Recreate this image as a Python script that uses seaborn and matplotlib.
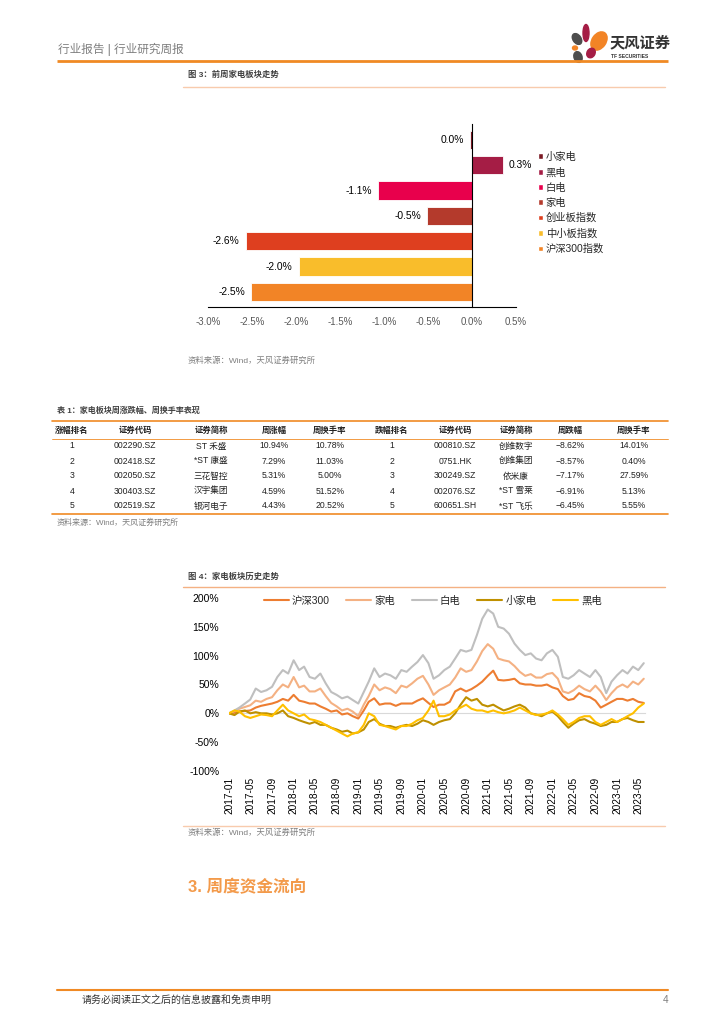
import numpy as np
import pandas as pd
import matplotlib
matplotlib.use('Agg')
import matplotlib.pyplot as plt
import seaborn as sns
from matplotlib.patches import Ellipse, Patch

sns.set_theme(style='white')
plt.rcParams['font.family'] = ['Liberation Sans', 'Noto Sans CJK SC', 'DejaVu Sans']
plt.rcParams['axes.unicode_minus'] = False

# ---------------- data ----------------
bar_categories = ['小家电', '黑电', '白电', '家电', '创业板指数', '中小板指数', '沪深300指数']
bar_values = [-0.02, 0.35, -1.07, -0.51, -2.57, -1.97, -2.51]
bar_colors = ['#7B1A24', '#A51D45', '#E8004C', '#B43A2C', '#DE3F1F', '#F9BD2B', '#F28426']
bar_ticks = [-3.0, -2.5, -2.0, -1.5, -1.0, -0.5, 0.0, 0.5]

table_header = ['涨幅排名', '证券代码', '证券简称', '周涨幅', '周换手率',
                '跌幅排名', '证券代码', '证券简称', '周跌幅', '周换手率']
rank_up = [1, 2, 3, 4, 5]
code_up = ['002290.SZ', '002418.SZ', '002050.SZ', '300403.SZ', '002519.SZ']
name_up = ['ST 禾盛', '*ST 康盛', '三花智控', '汉宇集团', '银河电子']
chg_up = [10.94, 7.29, 5.31, 4.59, 4.43]
turn_up = [10.78, 11.03, 5.00, 51.52, 20.52]
rank_dn = [1, 2, 3, 4, 5]
code_dn = ['000810.SZ', '0751.HK', '300249.SZ', '002076.SZ', '600651.SH']
name_dn = ['创维数字', '创维集团', '依米康', '*ST 雪莱', '*ST 飞乐']
chg_dn = [-8.62, -8.57, -7.17, -6.91, -6.45]
turn_dn = [14.01, 0.40, 27.59, 5.13, 5.55]

line_names = ['沪深300', '家电', '白电', '小家电', '黑电']
line_colors = ['#ED7D31', '#F4B183', '#BFBFBF', '#BF9000', '#FFC000']
months = pd.date_range('2017-01-01', '2023-06-01', freq='MS')
hs300 = [0, 1, 3, 4, 5, 10, 13, 15, 17, 20, 25, 22,
         32, 22, 20, 17, 17, 12, 8, 3, 5, -2, 0, -5,
         -9, 5, 20, 26, 15, 17, 17, 13, 17, 17, 17, 22,
         26, 18, 11, 15, 15, 20, 38, 43, 38, 42, 48, 55,
         65, 74, 58, 57, 58, 60, 52, 50, 50, 48, 48, 50,
         45, 42, 30, 23, 25, 35, 30, 28, 22, 10, 15, 20,
         25, 25, 22, 25, 20, 18]
jiadian = [0, 4, 8, 11, 14, 22, 20, 25, 28, 40, 50, 45,
           63, 45, 48, 38, 38, 43, 30, 18, 12, 5, 8, 3,
           -5, 15, 30, 50, 40, 45, 42, 35, 48, 45, 52, 60,
           65, 50, 32, 40, 45, 50, 62, 78, 72, 75, 90, 108,
           120, 112, 95, 92, 90, 82, 72, 65, 68, 62, 62, 68,
           70, 60, 38, 35, 40, 48, 42, 38, 48, 38, 23, 35,
           45, 50, 45, 55, 50, 60]
baidian = [0, 5, 10, 17, 24, 43, 37, 40, 46, 63, 75, 69,
           92, 75, 81, 63, 60, 69, 52, 37, 32, 26, 29, 23,
           17, 37, 55, 78, 63, 69, 66, 60, 75, 72, 81, 89,
           101, 87, 60, 66, 75, 81, 95, 110, 107, 110, 136, 164,
           180, 173, 150, 147, 138, 121, 110, 101, 104, 95, 92, 104,
           110, 98, 63, 60, 66, 75, 69, 63, 75, 63, 35, 55,
           66, 75, 69, 81, 75, 87]
xiaojiadian = [0, -3, 3, 5, 0, 2, 0, 0, -2, 0, 5, -5,
               -8, -12, -15, -18, -15, -20, -20, -25, -28, -32, -30, -35,
               -33, -28, -15, -10, -18, -22, -22, -25, -22, -20, -22, -18,
               -12, -15, -20, -15, -12, -10, 0, 15, 28, 22, 25, 15,
               12, 15, 10, 5, 8, 12, 15, 10, 0, -2, -5, 0,
               3, -5, -15, -25, -18, -12, -10, -15, -18, -22, -20, -15,
               -15, -10, -8, -12, -15, -15]
heidian = [0, 5, 3, -5, -8, -5, -2, -3, -5, 5, 15, 5,
           0, -5, -2, -10, -12, -15, -20, -25, -30, -35, -40, -35,
           -33, -20, 0, -5, -20, -22, -25, -28, -22, -22, -18, -12,
           -8, 5, 22, -5, -5, -2, 5, 10, 15, 8, 5, 5,
           2, 5, 2, 0, 2, 5, 10, 5, 0, -3, -2, 0,
           5, -2, -10, -20, -15, -8, -5, -5, -15, -20, -15, -10,
           -15, -10, -5, 0, 10, 17]
line_values = [hs300, jiadian, baidian, xiaojiadian, heidian]
line_yticks = [-100, -50, 0, 50, 100, 150, 200]
line_xticks = pd.date_range('2017-01-01', '2023-05-01', freq='4MS')

# ---------------- figure ----------------
W, H = 724, 1024
fig = plt.figure(figsize=(W / 100, H / 100), dpi=100)
fig.patch.set_facecolor('white')

# overlay in pixel coords
ov = fig.add_axes([0, 0, 1, 1], zorder=0)
ov.set_xlim(0, W)
ov.set_ylim(H, 0)
ov.axis('off')
ov.patch.set_alpha(0)

ORANGE = '#F08A24'
LIGHT = '#F8CBAD'

# header
ov.text(58, 49, '行业报告 | 行业研究周报', fontsize=8.4, color='#7F7F7F', va='center', ha='left')
ov.plot([57, 668], [61, 61], color=ORANGE, lw=2.0, solid_capstyle='butt')
# logo petals
ov.add_patch(Ellipse((586, 33), 6, 17, angle=0, color='#A51D45'))
ov.add_patch(Ellipse((599, 41), 14, 20, angle=35, color='#F28426'))
ov.add_patch(Ellipse((577, 39), 8, 12, angle=-35, color='#4D4D4D'))
ov.add_patch(Ellipse((575, 48), 5, 4, angle=0, color='#F28426'))
ov.add_patch(Ellipse((591, 53), 8, 10, angle=30, color='#A51D45'))
ov.add_patch(Ellipse((578, 57), 8, 11, angle=-20, color='#4D4D4D'))
ov.text(610, 43, '天风证券', fontsize=11, fontweight='bold', color='#333333', va='center', ha='left')
ov.text(611, 56, 'TF SECURITIES', fontsize=3.6, fontweight='bold', color='#333333', va='center', ha='left')

# figure 3 title
ov.text(188, 75, '图 3：前周家电板块走势', fontsize=6, fontweight='bold', color='#404040', va='center')
ov.plot([183, 665], [87, 87], color=LIGHT, lw=1.0)
ov.text(188, 361, '资料来源：Wind，天风证券研究所', fontsize=6, color='#7F7F7F', va='center')

# ---------------- bar chart ----------------
axb = fig.add_axes([208 / W, 1 - 307 / H, (516 - 208) / W, (307 - 124) / H], zorder=2)
axb.patch.set_alpha(0)
sns.barplot(x=bar_values, y=bar_categories, hue=bar_categories, palette=bar_colors,
            orient='h', width=0.72, legend=False, saturation=1, ax=axb,
            edgecolor='white', linewidth=0.6)
axb.set_xlim(bar_ticks[0], bar_ticks[-1])
axb.set_ylim(6.6, -0.63)
axb.tick_params(axis='x', direction='out', length=4, width=0.8, color='black', pad=3,
                labelsize=7, labelcolor='#595959')
axb.set_xticks(bar_ticks)
axb.set_xticklabels([f'{t:.1f}%' for t in bar_ticks])
axb.set_yticks([])
axb.set_ylabel('')
for s in ['top', 'right']:
    axb.spines[s].set_visible(False)
axb.spines['left'].set_position(('data', 0))
axb.spines['left'].set_color('black')
axb.spines['left'].set_linewidth(0.8)
axb.spines['bottom'].set_color('black')
axb.spines['bottom'].set_linewidth(0.8)
for i, v in enumerate(bar_values):
    lab = f'{abs(v):.1f}%' if round(v, 1) == 0 else f'{v:.1f}%'
    if v > 0:
        axb.text(v + 0.07, i, lab, ha='left', va='center', fontsize=7.4, color='black')
    else:
        axb.text(v - 0.07, i, lab, ha='right', va='center', fontsize=7.4, color='black')

fig.legend(handles=[Patch(facecolor=c, label=l) for c, l in zip(bar_colors, bar_categories)],
           loc='upper left', bbox_to_anchor=(538 / W, 1 - 152 / H), frameon=False,
           handlelength=0.5, handleheight=0.5, handletextpad=0.25, labelspacing=0.5,
           fontsize=7.4, borderpad=0, borderaxespad=0)

# ---------------- table ----------------
ov.text(57, 411, '表 1：家电板块周涨跌幅、周换手率表现', fontsize=5.8, fontweight='bold', color='#404040', va='center')
ov.plot([52, 668], [421, 421], color=ORANGE, lw=1.2)
ov.plot([52, 668], [439, 439], color=ORANGE, lw=0.6)
ov.plot([52, 668], [514, 514], color=ORANGE, lw=1.2)
col_x = [72, 135, 211, 274, 330, 392, 455, 516, 570, 634]
for x, h in zip(col_x, table_header):
    ov.text(x, 431, h, fontsize=6, fontweight='bold', color='#222222', ha='center', va='center')
row_y = [446, 461, 476, 491, 506]
cols = [[str(r) for r in rank_up], code_up, name_up,
        [f'{v:.2f}%' for v in chg_up], [f'{v:.2f}%' for v in turn_up],
        [str(r) for r in rank_dn], code_dn, name_dn,
        [f'\u2212{abs(v):.2f}%' for v in chg_dn], [f'{v:.2f}%' for v in turn_dn]]
for x, col in zip(col_x, cols):
    for y, txt in zip(row_y, col):
        ov.text(x, y, txt, fontsize=6.2, color='#222222', ha='center', va='center')
ov.text(57, 523, '资料来源：Wind，天风证券研究所', fontsize=5.8, color='#7F7F7F', va='center')

# ---------------- line chart ----------------
ov.text(188, 577, '图 4：家电板块历史走势', fontsize=6, fontweight='bold', color='#404040', va='center')
ov.plot([183, 665], [587, 587], color='#F4B183', lw=1.0)
ov.plot([183, 665], [826, 826], color=LIGHT, lw=1.0)
ov.text(188, 833, '资料来源：Wind，天风证券研究所', fontsize=6, color='#7F7F7F', va='center')

df = pd.concat([pd.DataFrame({'date': months, 'value': vals, 'series': name})
                for name, vals in zip(line_names, line_values)], ignore_index=True)
axl = fig.add_axes([229 / W, 1 - 771 / H, (645 - 229) / W, (771 - 598) / H], zorder=2)
axl.patch.set_alpha(0)
sns.lineplot(data=df, x='date', y='value', hue='series', hue_order=line_names,
             palette=line_colors, lw=1.5, ax=axl)
axl.set_xlim(pd.Timestamp('2017-01-01'), pd.Timestamp('2023-06-08'))
axl.set_ylim(-100, 200)
axl.tick_params(axis='x', direction='out', length=2.5, width=0.8, color='#D9D9D9',
                pad=43, labelrotation=90, labelsize=7.3, labelcolor='black')
axl.tick_params(axis='y', length=0, pad=7, labelsize=7.5, labelcolor='black')
axl.set_yticks(line_yticks)
axl.set_yticklabels([f'{t}%' for t in line_yticks])
axl.set_xticks(line_xticks)
axl.set_xticklabels([d.strftime('%Y-%m') for d in line_xticks])
axl.set_xlabel('')
axl.set_ylabel('')
for s in ['top', 'right', 'left']:
    axl.spines[s].set_visible(False)
axl.spines['bottom'].set_position(('data', 0))
axl.spines['bottom'].set_color('#D9D9D9')
axl.spines['bottom'].set_linewidth(0.8)
axl.spines['bottom'].set_zorder(0)
handles, labels = axl.get_legend_handles_labels()
axl.legend(handles, labels, ncol=5, loc='center', bbox_to_anchor=(0.49, 0.985), frameon=False,
           fontsize=7.5, handlelength=2.4, handletextpad=0.3, columnspacing=1.6,
           borderpad=0, borderaxespad=0)

# ---------------- section + footer ----------------
ov.text(188, 887, '3. 周度资金流向', fontsize=12, fontweight='bold', color='#F39A4A', va='center')
ov.plot([57, 668], [990, 990], color=ORANGE, lw=1.5)
ov.text(82, 1000, '请务必阅读正文之后的信息披露和免责申明', fontsize=7.2, color='#333333', va='center')
ov.text(668, 1000, '4', fontsize=7.2, color='#7F7F7F', va='center', ha='right')

fig.savefig('out.png', dpi=100, facecolor='white')
